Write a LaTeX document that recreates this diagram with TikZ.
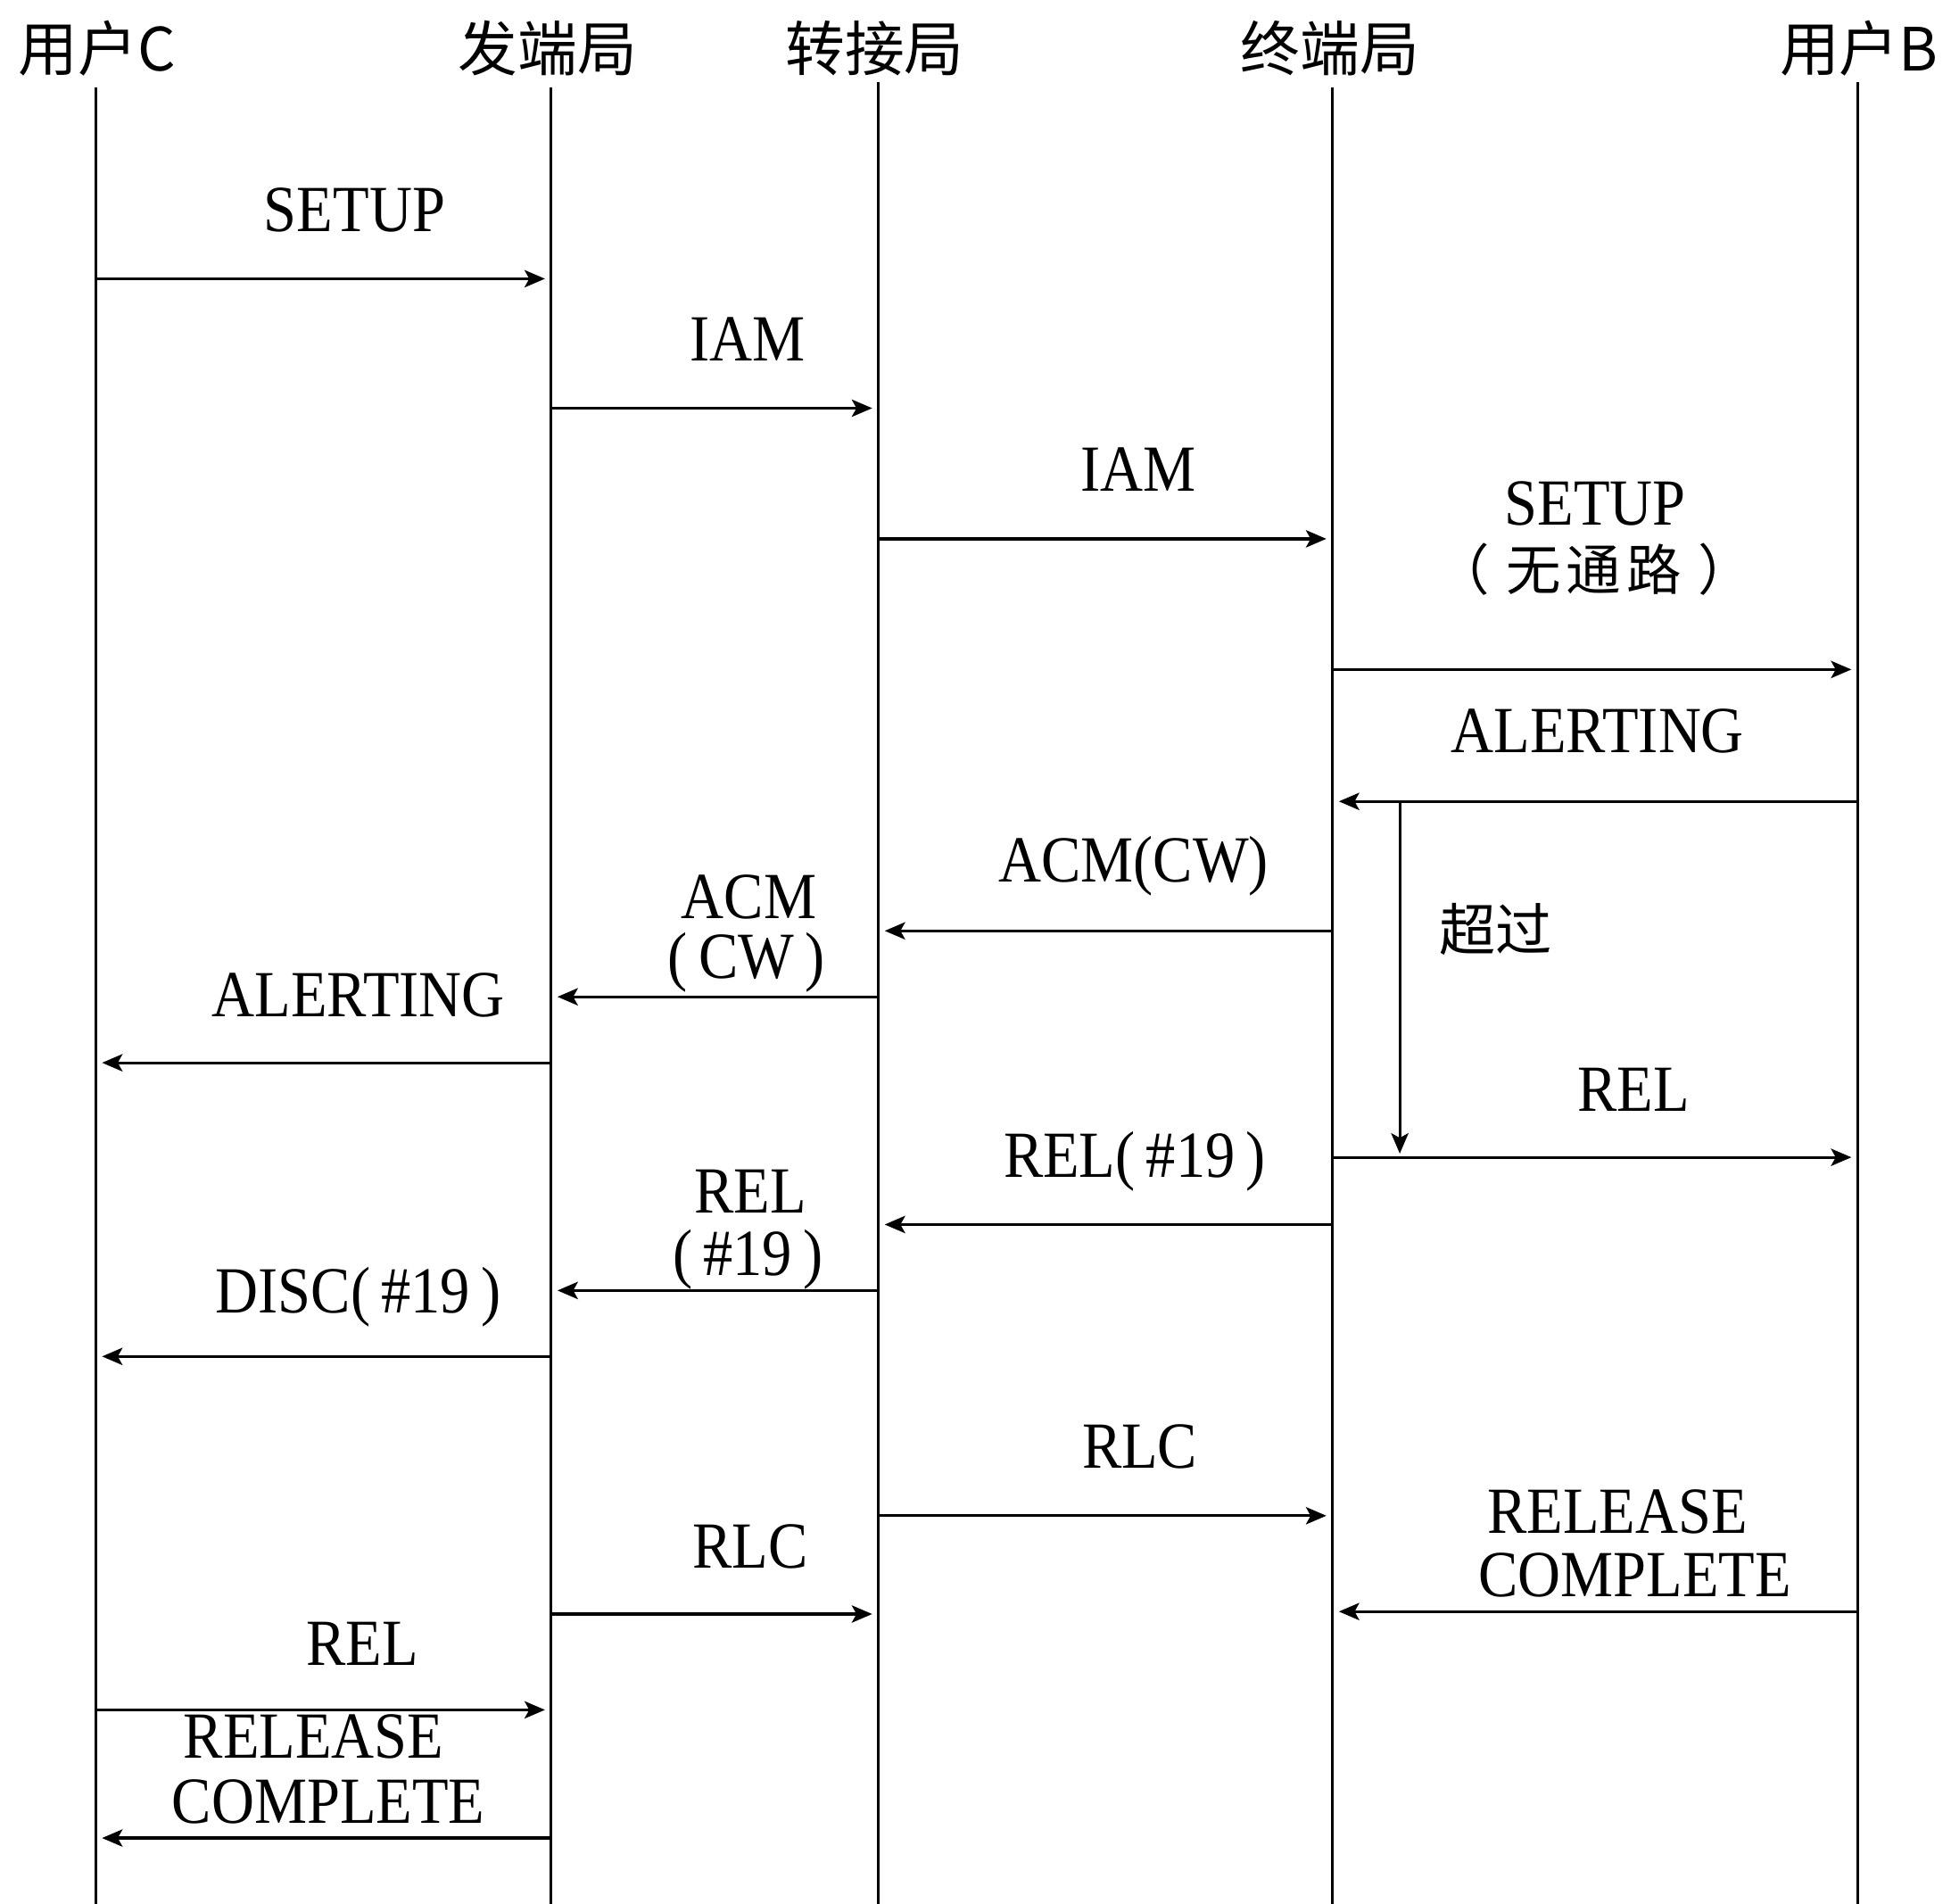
\documentclass[tikz,border=0pt]{standalone}
\usepackage{fontspec}
\setmainfont{Liberation Serif}[FakeStretch=0.9]
\newfontfamily\cjk{Noto Sans CJK SC}
\usetikzlibrary{arrows.meta}
\newcommand\msgarrow[4]{%
  \coordinate (#4s) at (#1,#3);
  \coordinate (#4e) at (#2,#3);
  \draw[msg] (#4s) -- (#4e);}
\begin{document}
\begin{tikzpicture}[x=0.013948cm,y=-0.013948cm,
  life/.style={line width=0.8pt},
  msg/.style={line width=0.9pt,-{Stealth[length=6.5pt,width=5.5pt,inset=1.5pt]},shorten >=2pt},
  hdr/.style={font=\cjk\fontsize{19}{19}\selectfont,anchor=base,inner sep=0pt},
  lbl/.style={font=\fontsize{21}{21}\selectfont,anchor=base,inner sep=0pt},
  cjklbl/.style={font=\cjk\fontsize{17.5}{17.5}\selectfont,anchor=base,inner sep=0pt}]
\useasboundingbox (0,0) rectangle (1568,1530);
% headers
\node[hdr] (hC) at (78,57) {用户C};
\node[hdr] (hO) at (440,57) {发端局};
\node[hdr] (hT) at (703,57) {转接局};
\node[hdr] (hE) at (1069,57) {终端局};
\node[hdr] (hB) at (1494,57) {用户B};
% lifelines
\coordinate (Ct) at (77,70);   \coordinate (Cb) at (77,1530);
\coordinate (Ot) at (443,70);  \coordinate (Ob) at (443,1530);
\coordinate (Tt) at (706,66);  \coordinate (Tb) at (706,1530);
\coordinate (Et) at (1071,70); \coordinate (Eb) at (1071,1530);
\coordinate (Bt) at (1493,66); \coordinate (Bb) at (1493,1530);
\draw[life] (Ct) -- (Cb);
\draw[life] (Ot) -- (Ob);
\draw[life] (Tt) -- (Tb);
\draw[life] (Et) -- (Eb);
\draw[life] (Bt) -- (Bb);
% messages
\msgarrow{77}{443}{224}{m1}
\msgarrow{443}{706}{328}{m2}
\msgarrow{706}{1071}{433}{m3}
\msgarrow{1071}{1493}{538}{m4}
\msgarrow{1493}{1071}{644}{m5}
\msgarrow{1071}{706}{748}{m6}
\msgarrow{706}{443}{801}{m7}
\msgarrow{443}{77}{854}{m8}
\msgarrow{1071}{1493}{930}{m10}
\msgarrow{1071}{706}{984}{m11}
\msgarrow{706}{443}{1037}{m12}
\msgarrow{443}{77}{1090}{m13}
\msgarrow{706}{1071}{1218}{m14}
\msgarrow{1493}{1071}{1295}{m15}
\msgarrow{443}{706}{1297}{m16}
\msgarrow{77}{443}{1374}{m17}
\msgarrow{443}{77}{1477}{m18}
% timer
\coordinate (tmS) at (1125,644);
\coordinate (tmE) at (1125,927);
\draw[msg,shorten >=0pt] (tmS) -- (tmE);
\node[cjklbl,font=\cjk\fontsize{18}{18}\selectfont] (tm) at (1202,764) {超过};
% labels
\node[lbl] (l1) at (285,186) {SETUP};
\node[lbl] (l2) at (601,290) {IAM};
\node[lbl] (l3) at (915,395) {IAM};
\node[lbl] (l4a) at (1282,422) {SETUP};
\node[cjklbl] (l4b) at (1281,474) {（\hspace{0.3em}无\hspace{0.1em}通\hspace{0.1em}路\hspace{0.3em}）};
\node[lbl] (l5) at (1284,605) {ALERTING};
\node[lbl] (l6) at (911,709) {ACM(CW)};
\node[lbl] (l7a) at (602,738) {ACM};
\node[lbl] (l7b) at (600,786) {(\,CW\,)};
\node[lbl] (l8) at (288,817) {ALERTING};
\node[lbl] (l10) at (1313,893) {REL};
\node[lbl] (l11) at (912,946) {REL(\,\#19\,)};
\node[lbl] (l12a) at (603,975) {REL};
\node[lbl] (l12b) at (601,1025) {(\,\#19\,)};
\node[lbl] (l13) at (288,1055) {DISC(\,\#19\,)};
\node[lbl] (l14) at (916,1180) {RLC};
\node[lbl] (l15a) at (1300,1232) {RELEASE};
\node[lbl] (l15b) at (1314,1283) {COMPLETE};
\node[lbl] (l16) at (603,1260) {RLC};
\node[lbl] (l17) at (291,1338) {REL};
\node[lbl] (l18a) at (252,1413) {RELEASE};
\node[lbl] (l18b) at (264,1465) {COMPLETE};
\end{tikzpicture}
\end{document}
